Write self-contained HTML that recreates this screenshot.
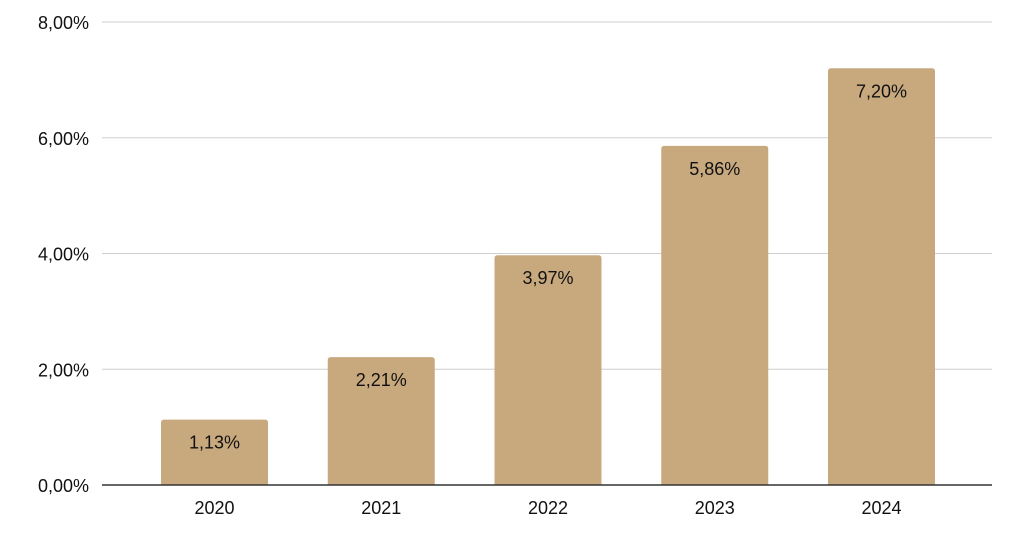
<!DOCTYPE html>
<html><head><meta charset="utf-8"><style>
html,body{margin:0;padding:0;background:#fff;}
svg{display:block;font-family:"Liberation Sans",Arial,sans-serif;}
</style></head><body>
<svg id="chart" width="1024" height="551" viewBox="0 0 1024 551" xmlns="http://www.w3.org/2000/svg">
<g id="grid"></g>
<g id="yticks"></g>
<g id="bars"></g>
<g id="xticks"></g>
<line x1="102" y1="485" x2="992" y2="485" stroke="#333" stroke-width="1.5"/>
</svg>
<script>
const categories = ["2020","2021","2022","2023","2024"];
const values = [1.13, 2.21, 3.97, 5.86, 7.20];
const valueLabels = ["1,13%","2,21%","3,97%","5,86%","7,20%"];
const yTicks = [0, 2, 4, 6, 8];
const yTickLabels = ["0,00%","2,00%","4,00%","6,00%","8,00%"];

const NS = "http://www.w3.org/2000/svg";
const plotL = 102, plotR = 992, y0 = 485, yTop = 22, yMax = 8;
const yScale = v => y0 - (v / yMax) * (y0 - yTop);
const band = 166.75;
const barW = 107;
const xCenter = i => 214.5 + band * i;

function mk(tag, attrs, parent) {
  const el = document.createElementNS(NS, tag);
  for (const k in attrs) el.setAttribute(k, attrs[k]);
  parent.appendChild(el);
  return el;
}
const grid = document.getElementById("grid");
const yt = document.getElementById("yticks");
yTicks.forEach((t, i) => {
  const y = yScale(t);
  if (t !== 0) {
    const l = mk("line", {x1: plotL, x2: plotR, y1: y, y2: y, stroke: "#cfcfcf", "stroke-width": 1}, grid);
    
    
  }
  const tx = mk("text", {x: 89, y: y + 7, "text-anchor": "end", "font-size": 18, fill: "#111"}, yt);
  tx.textContent = yTickLabels[i];
  
  
});
const bars = document.getElementById("bars");
const xt = document.getElementById("xticks");
categories.forEach((c, i) => {
  const cx = xCenter(i);
  const top = yScale(values[i]);
  const r = 3;
  const x = cx - barW / 2;
  const p = mk("path", {
    d: `M${x},${y0} V${top + r} Q${x},${top} ${x + r},${top} H${x + barW - r} Q${x + barW},${top} ${x + barW},${top + r} V${y0} Z`,
    fill: "#c8a97e"
  }, bars);
  
  
  const vl = mk("text", {x: cx, y: top + 29, "text-anchor": "middle", "font-size": 18, fill: "#111"}, bars);
  vl.textContent = valueLabels[i];
  
  
  const xl = mk("text", {x: cx, y: 514, "text-anchor": "middle", "font-size": 18, fill: "#111"}, xt);
  xl.textContent = c;
  
  
});
</script>
</body></html>
